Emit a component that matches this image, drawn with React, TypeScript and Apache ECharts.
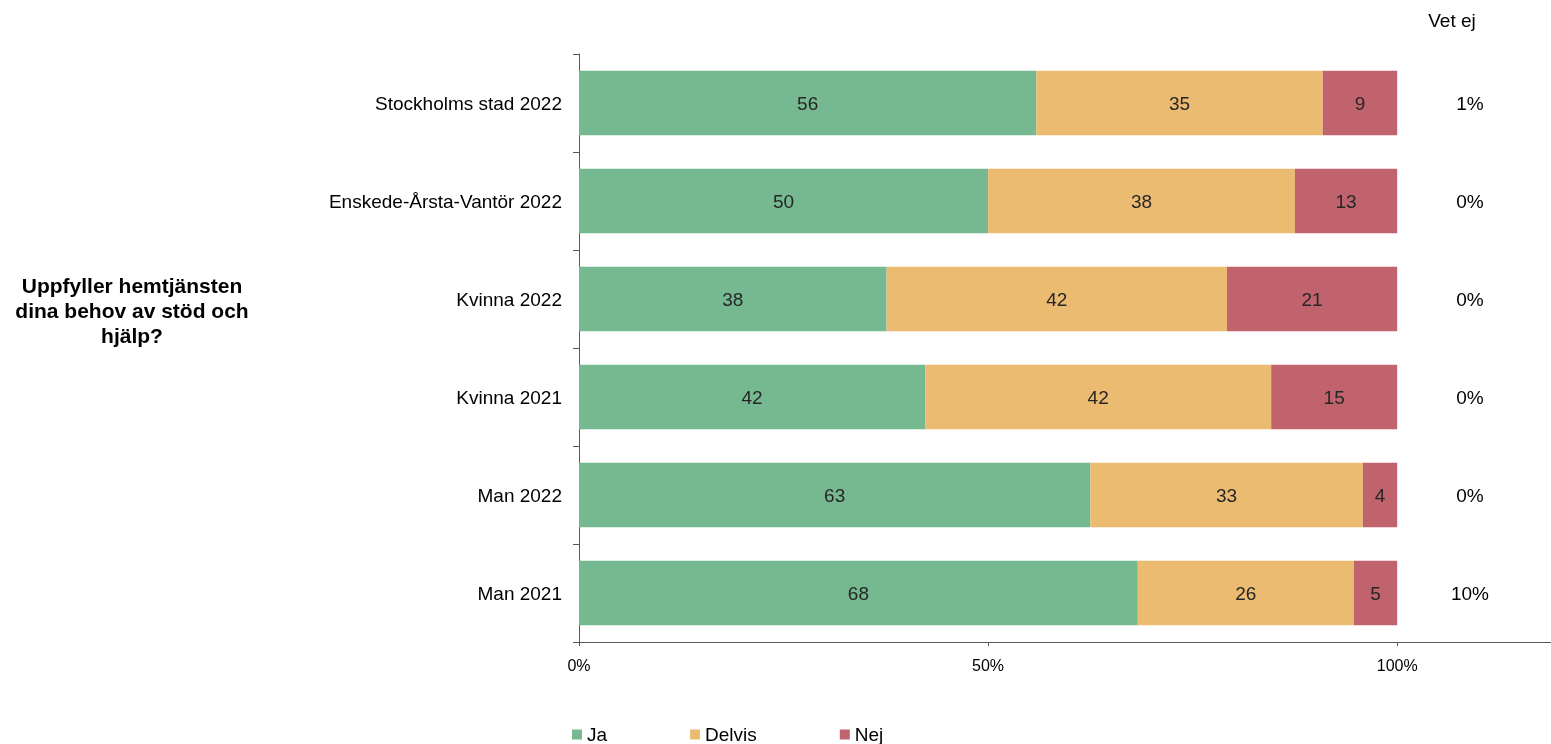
import React, { useEffect, useRef } from "react";
import * as echarts from "echarts";

const categories = [
  "Stockholms stad 2022",
  "Enskede-Årsta-Vantör 2022",
  "Kvinna 2022",
  "Kvinna 2021",
  "Man 2022",
  "Man 2021",
];
const ja = [55.9, 50.0, 37.6, 42.3, 62.5, 68.3];
const delvis = [35.0, 37.5, 41.6, 42.3, 33.3, 26.4];
const nej = [9.1, 12.5, 20.8, 15.4, 4.2, 5.3];
const vetEj = ["1%", "0%", "0%", "0%", "0%", "10%"];
const vetEjColumnX = 108.9;
const seriesNames = ["Ja", "Delvis", "Nej"];
const xTicks = [0, 50, 100];
const questionTitle = "Uppfyller hemtjänsten\ndina behov av stöd och\nhjälp?";
const vetEjHeader = "Vet ej";

const FONT = "'Liberation Sans', Arial, Helvetica, sans-serif";
const colors = ["#76B991", "#ECBB72", "#C1636D"];

export default function App() {
  const ref = useRef<HTMLDivElement>(null);
  useEffect(() => {
    if (!ref.current) return;
    const chart = echarts.init(ref.current, null, { renderer: "svg" });
    const values = [ja, delvis, nej];
    const barSeries = seriesNames.map((name, i) => ({
      name,
      type: "bar",
      stack: "total",
      barWidth: "66%",
      itemStyle: { color: colors[i] },
      label: {
        show: true,
        position: "inside",
        color: "#262626",
        fontSize: 19,
        fontFamily: FONT,
        formatter: (p: any) => String(Math.round(p.value)),
      },
      data: values[i],
    }));
    chart.setOption({
      animation: false,
      textStyle: { fontFamily: FONT },
      grid: { left: 579, right: 0, top: 54, bottom: 102, containLabel: false },
      legend: {
        data: seriesNames,
        left: 567,
        top: 720,
        itemWidth: 10,
        itemHeight: 10,
        itemGap: 83,
        icon: "rect",
        textStyle: { fontSize: 19, color: "#000", fontFamily: FONT },
      },
      xAxis: {
        type: "value",
        min: 0,
        max: 118.8,
        interval: 50,
        splitLine: { show: false },
        axisLine: { show: true, lineStyle: { color: "#595959", width: 1 } },
        axisTick: { show: true, length: 4, lineStyle: { color: "#595959" } },
        axisLabel: {
          margin: 15,
          fontSize: 16,
          color: "#000",
          fontFamily: FONT,
          showMaxLabel: false,
          formatter: (v: number) => (xTicks.includes(v) ? v + "%" : ""),
        },
      },
      yAxis: {
        type: "category",
        inverse: true,
        data: categories,
        axisLine: { show: true, lineStyle: { color: "#595959", width: 1 } },
        axisTick: { show: true, length: 6, lineStyle: { color: "#595959" } },
        axisLabel: { margin: 17, fontSize: 19, color: "#000", fontFamily: FONT },
      },
      series: [
        ...barSeries,
        {
          name: "Vet ej",
          type: "scatter",
          symbolSize: 0,
          silent: true,
          itemStyle: { opacity: 1 },
          data: categories.map((c) => [vetEjColumnX, c]),
          label: {
            show: true,
            position: "inside",
            color: "#000",
            fontSize: 19,
            fontFamily: FONT,
            formatter: (p: any) => vetEj[p.dataIndex],
          },
        },
      ],
      graphic: [
        {
          type: "text",
          x: 132,
          y: 310,
          style: {
            text: questionTitle,
            font: `bold 21px ${FONT}`,
            fill: "#000",
            align: "center",
            verticalAlign: "middle",
            lineHeight: 25,
          },
        },
        {
          type: "text",
          x: 1452,
          y: 20,
          style: {
            text: vetEjHeader,
            font: `19px ${FONT}`,
            fill: "#000",
            align: "center",
            verticalAlign: "middle",
          },
        },
      ],
    });
    return () => chart.dispose();
  }, []);
  return (
    <div
      ref={ref}
      style={{ position: "fixed", left: 0, top: 0, width: 1551, height: 744 }}
    />
  );
}
